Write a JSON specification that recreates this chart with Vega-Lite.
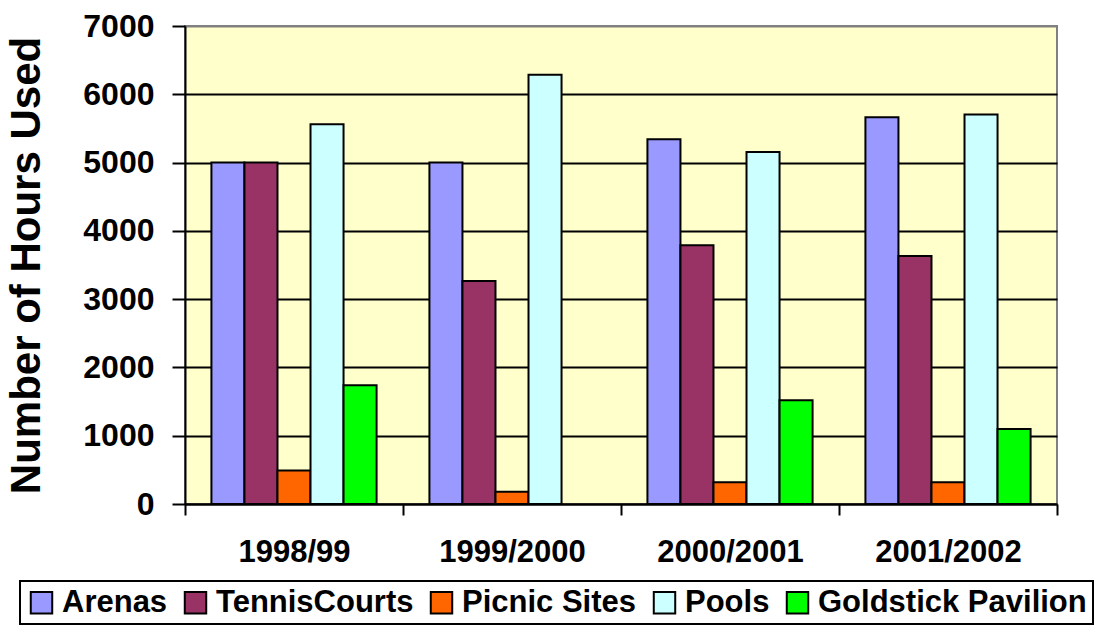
{
  "$schema": "https://vega.github.io/schema/vega-lite/v6.json",
  "width": 872,
  "height": 478,
  "autosize": {"type": "none"},
  "padding": {"left": 185, "top": 26, "right": 45, "bottom": 124},
  "background": "white",
  "data": {
    "values": [
      {"period": "1998/99", "facility": "Arenas", "hours": 5000},
      {"period": "1998/99", "facility": "TennisCourts", "hours": 5000},
      {"period": "1998/99", "facility": "Picnic Sites", "hours": 490},
      {"period": "1998/99", "facility": "Pools", "hours": 5560},
      {"period": "1998/99", "facility": "Goldstick Pavilion", "hours": 1740},
      {"period": "1999/2000", "facility": "Arenas", "hours": 5000},
      {"period": "1999/2000", "facility": "TennisCourts", "hours": 3265},
      {"period": "1999/2000", "facility": "Picnic Sites", "hours": 180},
      {"period": "1999/2000", "facility": "Pools", "hours": 6285},
      {"period": "2000/2001", "facility": "Arenas", "hours": 5340},
      {"period": "2000/2001", "facility": "TennisCourts", "hours": 3790},
      {"period": "2000/2001", "facility": "Picnic Sites", "hours": 320},
      {"period": "2000/2001", "facility": "Pools", "hours": 5155},
      {"period": "2000/2001", "facility": "Goldstick Pavilion", "hours": 1520},
      {"period": "2001/2002", "facility": "Arenas", "hours": 5665},
      {"period": "2001/2002", "facility": "TennisCourts", "hours": 3630},
      {"period": "2001/2002", "facility": "Picnic Sites", "hours": 320},
      {"period": "2001/2002", "facility": "Pools", "hours": 5705},
      {"period": "2001/2002", "facility": "Goldstick Pavilion", "hours": 1100}
    ]
  },
  "mark": {"type": "bar", "stroke": "black", "strokeWidth": 2},
  "encoding": {
    "x": {
      "field": "period",
      "type": "nominal",
      "sort": ["1998/99", "1999/2000", "2000/2001", "2001/2002"],
      "scale": {"paddingInner": 0, "paddingOuter": 0},
      "axis": {
        "title": null,
        "labelAngle": 0,
        "tickBand": "extent",
        "grid": false,
        "labelFont": "Liberation Sans",
        "labelFontSize": 31,
        "labelFontWeight": "bold",
        "labelColor": "black",
        "labelPadding": 22,
        "tickSize": 11,
        "tickWidth": 2,
        "tickColor": "black",
        "domainColor": "black",
        "domainWidth": 2
      }
    },
    "xOffset": {
      "field": "facility",
      "type": "nominal",
      "sort": ["Arenas", "TennisCourts", "Picnic Sites", "Pools", "Goldstick Pavilion"],
      "scale": {
        "domain": ["Arenas", "TennisCourts", "Picnic Sites", "Pools", "Goldstick Pavilion"],
        "paddingInner": 0,
        "paddingOuter": 0.8
      }
    },
    "y": {
      "field": "hours",
      "type": "quantitative",
      "scale": {"domain": [0, 7000], "nice": false},
      "axis": {
        "title": "Number of Hours Used",
        "values": [0, 1000, 2000, 3000, 4000, 5000, 6000, 7000],
        "format": "d",
        "titleFont": "Liberation Sans",
        "titleFontSize": 42,
        "titleFontWeight": "bold",
        "titleColor": "black",
        "titlePadding": 34,
        "labelFont": "Liberation Sans",
        "labelFontSize": 32,
        "labelFontWeight": "bold",
        "labelColor": "black",
        "labelPadding": 18,
        "tickSize": 13,
        "tickWidth": 2,
        "tickColor": "black",
        "domainColor": "black",
        "domainWidth": 2,
        "grid": true,
        "gridColor": {"condition": {"test": "datum.value === 7000", "value": "#808080"}, "value": "black"},
        "gridWidth": 2,
        "gridOpacity": 1
      }
    },
    "color": {
      "field": "facility",
      "type": "nominal",
      "scale": {
        "domain": ["Arenas", "TennisCourts", "Picnic Sites", "Pools", "Goldstick Pavilion"],
        "range": ["#9999FF", "#993366", "#FF6600", "#CCFFFF", "#00FF00"]
      },
      "legend": {
        "title": null,
        "orient": "none",
        "legendX": -165,
        "legendY": 555,
        "direction": "horizontal",
        "symbolType": "square",
        "symbolSize": 460,
        "symbolStrokeColor": "black",
        "symbolStrokeWidth": 2,
        "symbolOpacity": 1,
        "labelFont": "Liberation Sans",
        "labelFontSize": 31,
        "labelFontWeight": "bold",
        "labelColor": "black",
        "labelLimit": 400,
        "labelOffset": 5,
        "columnPadding": 12,
        "padding": 6,
        "strokeColor": "black"
      }
    }
  },
  "config": {
    "view": {"fill": "#FFFFCC", "stroke": "#808080", "strokeWidth": 2},
    "legend": {"strokeWidth": 2}
  }
}
